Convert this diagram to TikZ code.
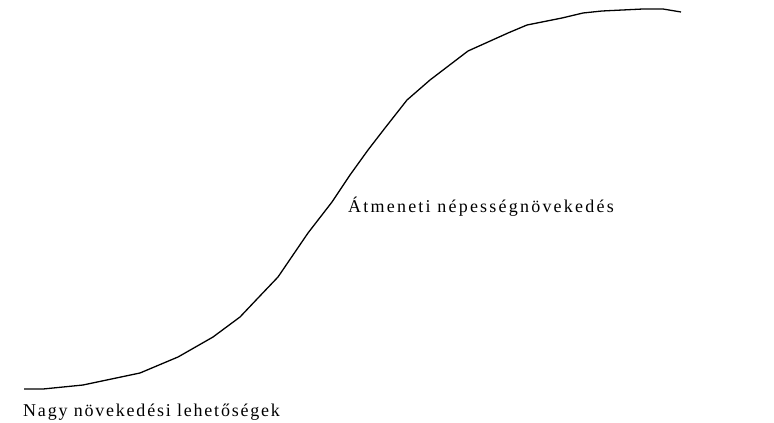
\documentclass[tikz,border=0pt]{standalone}
\usepackage{fontspec}
\setmainfont{Liberation Serif}
\newfontfamily\lowfont[LetterSpace=9.9]{Liberation Serif}
\newfontfamily\midfont[LetterSpace=12.3]{Liberation Serif}
\begin{document}
\begin{tikzpicture}[x=1pt,y=-1pt,
  curve/.style={line width=1.3pt,line join=round},
  lbl/.style={anchor=base west,inner sep=0pt}]
\useasboundingbox (0,0) rectangle (774,423);
\draw[curve] (24,389) -- (43,389) -- (83,385) -- (140,373) -- (178,357) -- (213,337) -- (240,317) -- (258,298) -- (278,277) -- (308,233) -- (332,202) -- (350,175) -- (368,150) -- (385,128) -- (407,100) -- (430,80) -- (468,51) -- (488,42) -- (508,33) -- (527,25) -- (562,18) -- (583,13) -- (602,11) -- (643,9) -- (663,9) -- (681,12);
\node[lbl,font=\lowfont\fontsize{18}{21}\selectfont] (low) at (23,416) {Nagy növekedési lehetőségek};
\node[lbl,font=\midfont\fontsize{18}{21}\selectfont] (mid) at (348,212) {Átmeneti népességnövekedés};
\end{tikzpicture}
\end{document}
